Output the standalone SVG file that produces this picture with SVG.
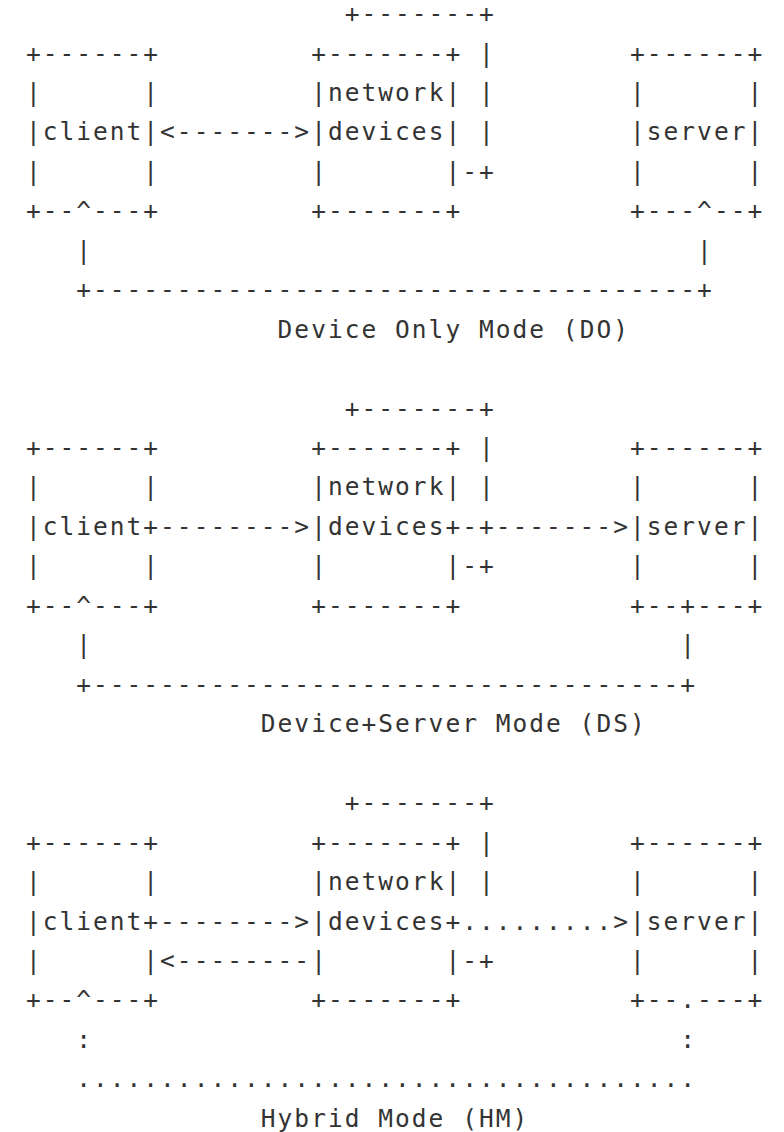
<svg xmlns="http://www.w3.org/2000/svg" width="784" height="1132" viewBox="0 0 784 1132">
<style>
text{font-family:"DejaVu Sans Mono","Liberation Mono",monospace;font-size:24.5px;letter-spacing:2.03px;fill:#333;white-space:pre}
</style>
<rect width="784" height="1132" fill="#fff"/>
<!-- Section 1: Device Only Mode -->
<g id="section-do">
  <g id="do-client">
    <text x="25.9" y="61.5">+------+</text>
    <text x="25.9" y="100.9" xml:space="preserve">|      |</text>
    <text x="25.9" y="140.4">|client|</text>
    <text x="25.9" y="179.8" xml:space="preserve">|      |</text>
    <text x="25.9" y="219.3">+--^---+</text>
  </g>
  <g id="do-network-devices">
    <text x="344.7" y="22">+-------+</text>
    <text x="311.2" y="61.5" xml:space="preserve">+-------+ |</text>
    <text x="311.2" y="100.9" xml:space="preserve">|network| |</text>
    <text x="311.2" y="140.4" xml:space="preserve">|devices| |</text>
    <text x="311.2" y="179.8" xml:space="preserve">|       |-+</text>
    <text x="311.2" y="219.3">+-------+</text>
  </g>
  <g id="do-server">
    <text x="630" y="61.5">+------+</text>
    <text x="630" y="100.9" xml:space="preserve">|      |</text>
    <text x="630" y="140.4">|server|</text>
    <text x="630" y="179.8" xml:space="preserve">|      |</text>
    <text x="630" y="219.3">+---^--+</text>
  </g>
  <g id="do-connectors">
    <text x="160.1" y="140.4">&lt;-------&gt;</text>
    <text x="76.2" y="258.8">|</text>
    <text x="697.1" y="258.8">|</text>
    <text x="76.2" y="298.2">+------------------------------------+</text>
  </g>
  <text id="do-label" x="277.6" y="337.7">Device Only Mode (DO)</text>
</g>
<!-- Section 2: Device+Server Mode -->
<g id="section-ds" transform="translate(0,394.6)">
  <g id="ds-client">
    <text x="25.9" y="61.5">+------+</text>
    <text x="25.9" y="100.9" xml:space="preserve">|      |</text>
    <text x="25.9" y="140.4">|client+</text>
    <text x="25.9" y="179.8" xml:space="preserve">|      |</text>
    <text x="25.9" y="219.3">+--^---+</text>
  </g>
  <g id="ds-network-devices">
    <text x="344.7" y="22">+-------+</text>
    <text x="311.2" y="61.5" xml:space="preserve">+-------+ |</text>
    <text x="311.2" y="100.9" xml:space="preserve">|network| |</text>
    <text x="311.2" y="140.4">|devices+-+</text>
    <text x="311.2" y="179.8" xml:space="preserve">|       |-+</text>
    <text x="311.2" y="219.3">+-------+</text>
  </g>
  <g id="ds-server">
    <text x="630" y="61.5">+------+</text>
    <text x="630" y="100.9" xml:space="preserve">|      |</text>
    <text x="630" y="140.4">|server|</text>
    <text x="630" y="179.8" xml:space="preserve">|      |</text>
    <text x="630" y="219.3">+--+---+</text>
  </g>
  <g id="ds-connectors">
    <text x="160.1" y="140.4">--------&gt;</text>
    <text x="495.7" y="140.4">-------&gt;</text>
    <text x="76.2" y="258.8">|</text>
    <text x="680.3" y="258.8">|</text>
    <text x="76.2" y="298.2">+-----------------------------------+</text>
  </g>
  <text id="ds-label" x="260.8" y="337.7">Device+Server Mode (DS)</text>
</g>
<!-- Section 3: Hybrid Mode -->
<g id="section-hm" transform="translate(0,789.2)">
  <g id="hm-client">
    <text x="25.9" y="61.5">+------+</text>
    <text x="25.9" y="100.9" xml:space="preserve">|      |</text>
    <text x="25.9" y="140.4">|client+</text>
    <text x="25.9" y="179.8" xml:space="preserve">|      |</text>
    <text x="25.9" y="219.3">+--^---+</text>
  </g>
  <g id="hm-network-devices">
    <text x="344.7" y="22">+-------+</text>
    <text x="311.2" y="61.5" xml:space="preserve">+-------+ |</text>
    <text x="311.2" y="100.9" xml:space="preserve">|network| |</text>
    <text x="311.2" y="140.4">|devices+</text>
    <text x="311.2" y="179.8" xml:space="preserve">|       |-+</text>
    <text x="311.2" y="219.3">+-------+</text>
  </g>
  <g id="hm-server">
    <text x="630" y="61.5">+------+</text>
    <text x="630" y="100.9" xml:space="preserve">|      |</text>
    <text x="630" y="140.4">|server|</text>
    <text x="630" y="179.8" xml:space="preserve">|      |</text>
    <text x="630" y="219.3">+--.---+</text>
  </g>
  <g id="hm-connectors">
    <text x="160.1" y="140.4">--------&gt;</text>
    <text x="462.2" y="140.4">.........&gt;</text>
    <text x="160.1" y="179.8">&lt;--------</text>
    <text x="76.2" y="258.8">:</text>
    <text x="680.3" y="258.8">:</text>
    <text x="76.2" y="298.2">.....................................</text>
  </g>
  <text id="hm-label" x="260.8" y="337.7">Hybrid Mode (HM)</text>
</g>
</svg>
